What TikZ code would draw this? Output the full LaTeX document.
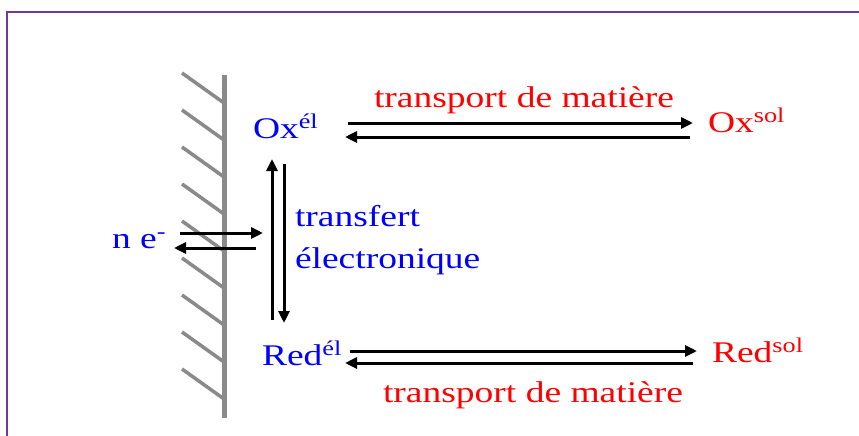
\documentclass[tikz,border=0pt]{standalone}
\usepackage{fontspec}
\setmainfont[FakeStretch=1.25]{Liberation Serif}
\usetikzlibrary{arrows.meta}
\definecolor{framepurple}{HTML}{7038A0}
\definecolor{wallgray}{HTML}{8A8A8A}

\begin{document}
\begin{tikzpicture}[
    x=1pt, y=-1pt,
    >={Triangle[length=12pt, width=11pt]},
    every node/.style={inner sep=0pt, outer sep=0pt, font=\fontsize{30}{42}\selectfont},
    elec/.style={text=blue, anchor=base west},
    sol/.style={text=red, anchor=base west},
    arr/.style={draw, ->, line width=3pt},
    hatch/.style={wallgray, line width=3.5pt}
]
    \useasboundingbox (0,0) rectangle (859,436);

    % --- FRAME ---
    \draw[framepurple, line width=2.5pt] (7,436) -- (7,12) -- (859,12);

    % --- ELECTRODE WALL ---
    \draw[wallgray, line width=5pt] (224,75) -- (224,418);
    \foreach \k in {0,...,8}
        \draw[hatch] (182,73+37*\k) -- (224,103+37*\k);

    % --- SPECIES AT THE ELECTRODE ---
    \node[elec] (ox_el) at (253,138) {Ox\textsuperscript{él}};
    \node[elec] (red_el) at (262,365) {Red\textsuperscript{él}};
    \node[elec] (n_e) at (112,248) {n e\textsuperscript{-}};
    \node[elec, align=left] (transfer) at (295,268) {transfert\\électronique};

    % --- SPECIES IN SOLUTION ---
    \node[sol] (ox_sol) at (708,132) {Ox\textsuperscript{sol}};
    \node[sol] (red_sol) at (712,362) {Red\textsuperscript{sol}};
    \node[text=red, anchor=base] (mat_top) at (524,107) {transport de matière};
    \node[text=red, anchor=base] (mat_bot) at (533,402) {transport de matière};

    % --- ELECTRON TRANSFER ---
    \draw[arr] ([xshift=68pt, yshift=15pt]n_e.base west) -- +(83,0);
    \draw[arr] ([xshift=144pt]n_e.base west) -- +(-82,0);
    \draw[arr] ([xshift=10pt, yshift=45pt]red_el.base west) -- ([xshift=19pt, yshift=-21pt]ox_el.base west);
    \draw[arr] ([xshift=31pt, yshift=-26pt]ox_el.base west) -- ([xshift=22pt, yshift=42pt]red_el.base west);

    % --- MASS TRANSPORT ---
    \draw[arr] ([xshift=95pt, yshift=15pt]ox_el.base west) -- ([xshift=-15pt, yshift=9pt]ox_sol.base west);
    \draw[arr] ([xshift=-18pt, yshift=-5pt]ox_sol.base west) -- ([xshift=92pt, yshift=1pt]ox_el.base west);
    \draw[arr] ([xshift=88pt, yshift=14pt]red_el.base west) -- ([xshift=-15pt, yshift=11pt]red_sol.base west);
    \draw[arr] ([xshift=-19pt, yshift=-1pt]red_sol.base west) -- ([xshift=83pt, yshift=2pt]red_el.base west);

\end{tikzpicture}
\end{document}
